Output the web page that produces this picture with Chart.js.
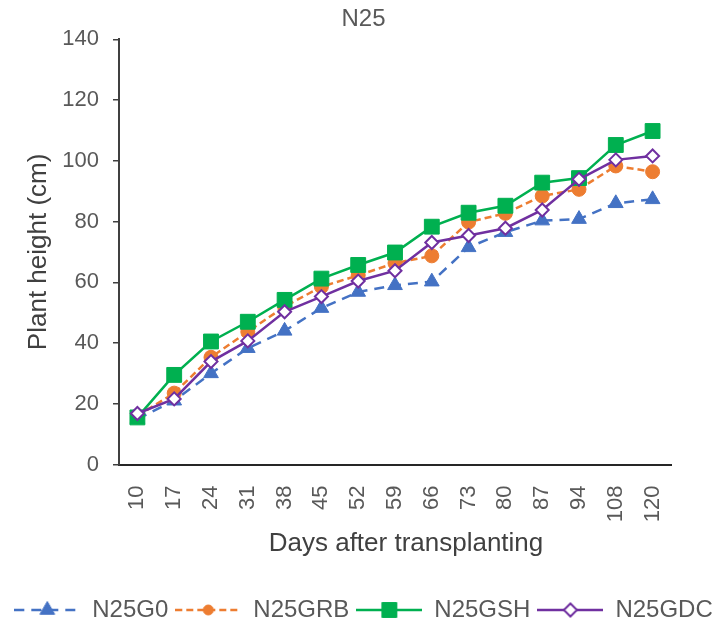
<!DOCTYPE html>
<html lang="en">
<head>
  <meta charset="UTF-8" />
  <title>N25 plant height</title>
  <style>
    body { margin: 0; background: #fff; }
    #wrap { width: 727px; height: 628px; }
  </style>
</head>
<body>
  <div id="wrap">
    <canvas id="heightChart" width="727" height="628"></canvas>
  </div>

  <script src="https://cdn.jsdelivr.net/npm/chart.js@4.4.1/dist/chart.umd.min.js"></script>

  <script>
    // days after transplanting (category axis)
    const days = ["10", "17", "24", "31", "38", "45", "52", "59", "66", "73", "80", "87", "94", "108", "120"];

    // plant height, cm
    const n25g0  = [15, 21, 30, 38.3, 44, 51.5, 56.8, 59, 60.2, 71.5, 76.5, 80.3, 80.8, 86, 87.3];
    const n25grb = [16, 23.5, 35.3, 43.7, 52, 58.5, 62.3, 66.3, 68.7, 79.8, 82.7, 88.4, 90.6, 98.3, 96.4];
    const n25gsh = [15.5, 29.5, 40.5, 47, 54.2, 61.2, 65.7, 69.8, 78.3, 82.9, 85.2, 92.8, 94.3, 105.2, 109.8];
    const n25gdc = [16.8, 21.6, 33.9, 40.7, 50.3, 55.3, 60.4, 63.8, 73.1, 75.4, 77.8, 83.8, 93.9, 100.3, 101.6];

    const yTicks = [0, 20, 40, 60, 80, 100, 120, 140];

    const FONT = "'Liberation Sans', Arial, sans-serif";
    const GREY = "#595959";

    // series styles
    const series = [
      { label: "N25G0",  data: n25g0,  color: "#4472C4", dash: [10, 7], style: "triangle", radius: 8.5, fill: "#4472C4", bw: 1 },
      { label: "N25GRB", data: n25grb, color: "#ED7D31", dash: [7, 4],  style: "circle",   radius: 7,   fill: "#ED7D31", bw: 1 },
      { label: "N25GSH", data: n25gsh, color: "#00B050", dash: [],      style: "rect",     radius: 10.5, fill: "#00B050", bw: 1 },
      { label: "N25GDC", data: n25gdc, color: "#7030A0", dash: [],      style: "rectRot",  radius: 6.5, fill: "#FFFFFF", bw: 2 }
    ];

    // small canvas per series: line segment + marker, used as legend symbol
    function makeLegendIcon(s) {
      const c = document.createElement("canvas");
      c.width = 66;
      c.height = 24;
      const g = c.getContext("2d");
      g.strokeStyle = s.color;
      g.lineWidth = 2.5;
      g.setLineDash(s.dash);
      g.beginPath();
      g.moveTo(0, 12);
      g.lineTo(66, 12);
      g.stroke();
      g.setLineDash([]);
      g.fillStyle = s.fill;
      g.strokeStyle = s.color;
      g.lineWidth = s.bw;
      const r = s.style === "circle" ? 5 : s.radius;
      Chart.helpers.drawPoint(g, { pointStyle: s.style, radius: r, rotation: 0, borderWidth: s.bw }, 33, 12);
      return c;
    }

    const legendIcons = series.map(makeLegendIcon);

    const datasets = series.map((s, i) => ({
      label: s.label,
      data: s.data,
      borderColor: s.color,
      borderWidth: 2.5,
      borderDash: s.dash,
      pointStyle: s.style,
      pointRadius: s.radius,
      pointHoverRadius: s.radius,
      pointBackgroundColor: s.fill,
      pointBorderColor: s.color,
      pointBorderWidth: s.bw,
      tension: 0,
      fill: false,
      order: series.length - 1 - i   // later series drawn on top
    }));

    // x axis title, drawn a little right of the plot centre
    const xTitlePlugin = {
      id: "xTitle",
      afterDraw(chart) {
        const xs = chart.scales.x;
        const c = chart.ctx;
        c.save();
        c.font = "26px " + FONT;
        c.fillStyle = "#404040";
        c.textAlign = "center";
        c.textBaseline = "middle";
        c.fillText("Days after transplanting", (xs.left + xs.right) / 2 + 11, xs.top + 79.5);
        c.restore();
      }
    };

    const ctx = document.getElementById("heightChart").getContext("2d");
    new Chart(ctx, {
      type: "line",
      data: { labels: days, datasets },
      plugins: [xTitlePlugin],
      options: {
        responsive: false,
        animation: false,
        layout: { padding: { left: 0, right: 0, top: 0, bottom: -4 } },
        plugins: {
          title: {
            display: true,
            text: "N25",
            color: GREY,
            font: { family: FONT, size: 24, weight: "normal" },
            padding: { top: 5, bottom: 5.5 }
          },
          legend: {
            position: "bottom",
            labels: {
              usePointStyle: true,
              pointStyleWidth: 66,
              padding: 7,
              color: GREY,
              font: { family: FONT, size: 24 },
              sort: (a, b) => a.datasetIndex - b.datasetIndex,
              generateLabels: (chart) => chart.data.datasets.map((ds, i) => ({
                text: ds.label,
                datasetIndex: i,
                pointStyle: legendIcons[i],
                fontColor: GREY,
                fillStyle: "transparent",
                strokeStyle: "transparent",
                lineWidth: 0,
                hidden: false
              }))
            }
          },
          tooltip: { enabled: false }
        },
        scales: {
          x: {
            type: "category",
            offset: true,
            grid: { display: false, drawTicks: false },
            border: { display: true, color: "#262626", width: 2 },
            ticks: {
              autoSkip: false,
              minRotation: 90,
              maxRotation: 90,
              padding: 21,
              color: GREY,
              font: { family: FONT, size: 22 }
            },
            afterFit: (s) => { s.height = 126.5; }
          },
          y: {
            min: 0,
            max: 140,
            afterBuildTicks: (s) => { s.ticks = yTicks.map(v => ({ value: v })); },
            grid: { display: true, drawOnChartArea: false, drawTicks: true, tickLength: 6, color: "#404040", lineWidth: 1.5 },
            border: { display: true, color: "#404040", width: 2 },
            ticks: {
              padding: 14,
              color: GREY,
              font: { family: FONT, size: 22 }
            },
            title: {
              display: true,
              text: "Plant height (cm)",
              color: "#404040",
              font: { family: FONT, size: 26 },
              padding: { top: 23.4, bottom: 4 }
            },
            afterFit: (s) => { s.width = 119; }
          },
          // empty right-hand axis that reserves the space right of the plot
          spacer: {
            position: "right",
            display: true,
            grid: { display: false, drawTicks: false },
            border: { display: false },
            ticks: { display: false },
            afterFit: (s) => { s.width = 56; }
          }
        }
      }
    });
  </script>
</body>
</html>
